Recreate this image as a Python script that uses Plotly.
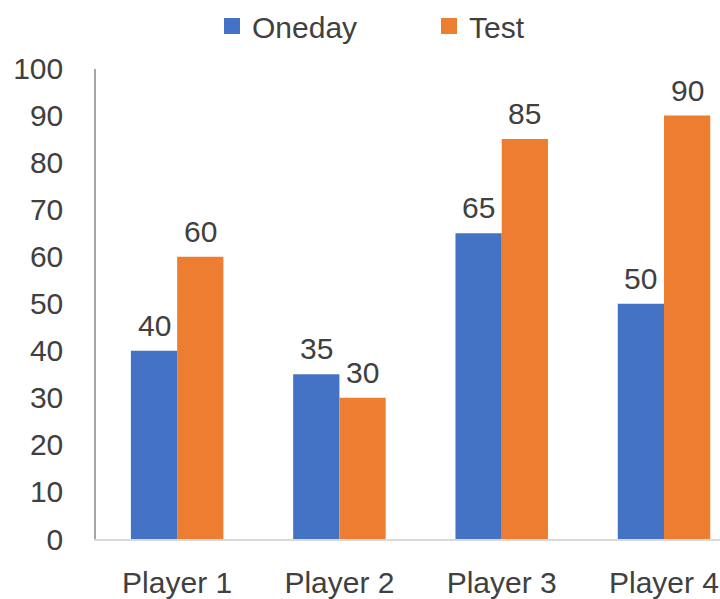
import plotly.graph_objects as go

categories = ["Player 1", "Player 2", "Player 3", "Player 4"]
oneday = [40, 35, 65, 50]
test = [60, 30, 85, 90]
y_ticks = [0, 10, 20, 30, 40, 50, 60, 70, 80, 90, 100]

BLUE = "#4472C4"
ORANGE = "#ED7D31"
TXT = "#404040"
FONT = "Liberation Sans"
FS = 30
BARGAP = 0.43
XRANGE = [-0.5, 3.345]
PLOT_W = 720 - 96

fig = go.Figure()
fig.add_trace(go.Bar(x=categories, y=oneday, name="Oneday", marker=dict(color=BLUE, line=dict(width=0)),
                     showlegend=False))
fig.add_trace(go.Bar(x=categories, y=test, name="Test", marker=dict(color=ORANGE, line=dict(width=0)),
                     showlegend=False))
# legend proxies
fig.add_trace(go.Scatter(x=[None], y=[None], mode="markers", name="Oneday",
                         marker=dict(symbol="square", size=20, color=BLUE)))
fig.add_trace(go.Scatter(x=[None], y=[None], mode="markers", name="Test",
                         marker=dict(symbol="square", size=20, color=ORANGE)))

# data labels above bars
px_per_unit = PLOT_W / (XRANGE[1] - XRANGE[0])
half_bar = (1 - BARGAP) / 2 * px_per_unit / 2
for series, shift in ((oneday, -half_bar), (test, half_bar)):
    for c, v in zip(categories, series):
        fig.add_annotation(x=c, y=v, text=str(v), showarrow=False, xshift=shift, yshift=7,
                           yanchor="bottom", font=dict(size=FS, color=TXT, family=FONT))

fig.update_layout(
    width=720, height=599,
    margin=dict(l=96, r=0, t=60, b=60),
    paper_bgcolor="white", plot_bgcolor="white",
    barmode="group", bargap=BARGAP, bargroupgap=0,
    font=dict(family=FONT, size=FS, color=TXT),
    legend=dict(orientation="h", xref="container", yref="container", x=212/720, y=1.0,
                xanchor="left", yanchor="top", font=dict(size=FS, color=TXT, family=FONT),
                itemsizing="trace", entrywidth=172, entrywidthmode="pixels", bgcolor="rgba(0,0,0,0)"),
    xaxis=dict(range=XRANGE, showgrid=False, showline=True, linecolor="#D9D9D9", linewidth=2,
               ticks="", tickfont=dict(size=FS, color=TXT), ticklabelstandoff=16),
    yaxis=dict(range=[0, 100], tickvals=y_ticks, showgrid=False, showline=True, linecolor="#A6A6A6",
               linewidth=1.5, ticks="", tickfont=dict(size=FS, color=TXT), zeroline=False,
               ticklabelstandoff=25),
)

fig.write_html("out.html")
